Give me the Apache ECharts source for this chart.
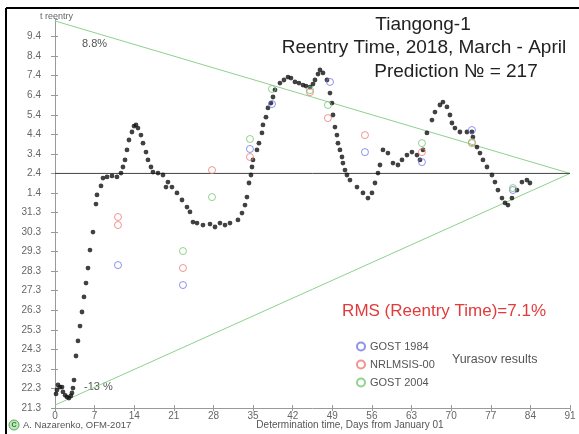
<!DOCTYPE html>
<html>
<head>
<meta charset="utf-8">
<script src="https://cdn.jsdelivr.net/npm/echarts@6/dist/echarts.min.js"></script>
<style>
html,body{margin:0;padding:0;background:#fff;}
#chart{width:579px;height:434px;}
</style>
</head>
<body>
<div id="chart"></div>
<script>
// Y axis: value 0 = 21 March, 12 = 2 April (actual reentry)
const yTickLabels = ['21.3','22.3','23.3','24.3','25.3','26.3','27.3','28.3','29.3','30.3','31.3',
                     '1.4','2.4','3.4','4.4','5.4','6.4','7.4','8.4','9.4'];
const reentryValue = 12;
// prediction curve [day from Jan 01, reentry value]
const predictions = [
[0.18,0.72],[0.35,0.92],[0.53,1.18],[0.88,1.07],[1.24,1.07],[1.41,0.82],[1.8,0.65],[2.12,0.56],[2.47,0.51],[2.8,0.62],[3.00,0.77],[3.18,1.02],
[3.36,1.43],[3.71,2.66],[4.06,3.43],[4.42,4.19],[4.77,4.91],[5.12,5.68],[5.48,6.39],[5.83,7.16],[6.18,8.08],[6.71,9.00],[7.24,10.43],[7.42,10.90],
[8.13,11.36],[8.48,11.76],[9.19,11.82],[10.07,11.87],[10.95,11.82],[11.66,12.02],[12.01,12.33],[12.37,12.69],[12.72,13.20],[13.07,13.71],[13.60,14.12],
[13.96,14.42],[14.31,14.48],[14.66,14.32],[15.19,13.96],[15.55,13.55],[16.08,13.09],[16.43,12.69],[16.96,12.33],[17.31,12.07],[18.20,12.02],[19.08,11.92],
[19.61,11.30],[19.96,11.56],[20.67,11.30],[21.55,11.00],[22.44,10.64],[23.32,10.28],[23.85,10.03],[24.38,9.51],[25.09,9.46],[26.15,9.36],[27.39,9.41],
[28.27,9.26],[29.15,9.46],[30.04,9.36],[30.92,9.46],[32.33,9.62],[33.04,9.97],[33.57,10.38],[33.92,10.79],[34.28,11.51],[34.63,11.92],[34.81,12.33],
[34.98,12.69],[35.69,13.20],[36.04,13.55],[36.57,14.07],[36.75,14.48],[37.28,14.88],[37.63,15.35],[38.16,15.60],[38.52,15.91],[38.87,16.27],[39.75,16.62],
[40.46,16.78],[41.17,16.93],[41.7,16.88],[42.40,16.68],[43.1,16.62],[43.82,16.52],[44.35,16.47],[45.05,16.42],[45.58,16.57],[45.94,16.78],[46.47,17.08],
[46.82,17.29],[47.35,17.14],[48.06,16.78],[48.59,16.11],[48.94,15.60],[49.12,14.99],[49.47,14.37],[49.82,13.96],[50.00,13.55],[50.35,13.20],[50.71,12.84],
[50.88,12.53],[51.24,12.17],[51.59,11.92],[52.12,11.66],[53.36,11.30],[54.42,11.00],[55.30,10.74],[56.01,11.00],[56.54,11.51],[57.07,12.02],[57.42,12.43],
[57.95,13.20],[58.83,13.04],[59.72,12.53],[60.60,12.43],[61.31,12.69],[62.19,12.94],[63.07,13.09],[63.96,12.94],[64.49,12.69],[65.02,13.20],[65.72,14.07],
[66.61,14.73],[67.14,15.14],[68.02,15.50],[68.55,15.65],[69.26,15.40],[69.79,14.99],[70.14,14.58],[70.67,14.32],[71.55,14.12],[72.79,14.12],[73.67,14.12],
[73.85,13.86],[74.56,13.35],[75.09,13.04],[75.62,12.69],[76.33,12.33],[77.21,11.92],[77.74,11.56],[78.27,11.15],[78.98,10.74],[79.51,10.49],[80.04,10.38],
[80.74,10.74],[81.63,11.15],[82.51,11.56],[83.39,11.66],[83.92,11.51]
];
// Yurasov results
const gost1984 = [[11.13,7.31],[22.61,6.29],[34.45,13.25],[38.34,15.55],[48.59,16.68],[54.77,13.09],[64.84,12.58],[73.67,14.22],[80.92,11.15]];
const nrlmsis00 = [[11.13,9.77],[11.13,9.36],[22.61,7.16],[27.74,12.17],[34.45,12.84],[45.05,16.16],[48.23,14.83],[54.77,13.96],[64.84,13.09],[73.67,13.55]];
const gost2004 = [[22.61,8.03],[27.74,10.79],[34.45,13.76],[38.34,16.32],[45.05,16.26],[48.23,15.5],[64.84,13.55],[73.67,13.6],[80.92,11.25]];
// error corridor
const upperBound = [[0,19.8],[91,12]];
const lowerBound = [[0,0.15],[91,12]];
const reentryLine = [[0,reentryValue],[91,reentryValue]];

const FONT = 'Liberation Sans, Arial, sans-serif';
const chart = echarts.init(document.getElementById('chart'), null, {renderer:'canvas'});
const yFmt = v => (Math.abs(v-Math.round(v))<1e-6 && yTickLabels[Math.round(v)]!==undefined) ? yTickLabels[Math.round(v)] : '';
const option = {
  animation:false,
  backgroundColor:'#fff',
  textStyle:{fontFamily:FONT},
  grid:{left:55,right:9,top:19,bottom:26},
  xAxis:[{
    type:'value',min:0,max:91,interval:7,
    axisLine:{lineStyle:{color:'#9a9a9a',width:1}},
    axisTick:{length:3,lineStyle:{color:'#9a9a9a'}},
    axisLabel:{fontSize:10,color:'#666',margin:3,fontFamily:FONT},
    splitLine:{show:false}
  },{
    type:'value',min:0,max:91,interval:7,position:'bottom',
    axisLine:{show:false},axisTick:{inside:true,length:3,lineStyle:{color:'#9a9a9a'}},
    axisLabel:{show:false},splitLine:{show:false}
  }],
  yAxis:[{
    type:'value',min:0,max:19.9,interval:1,
    axisLine:{show:true,lineStyle:{color:'#9a9a9a',width:1}},
    axisTick:{length:4,lineStyle:{color:'#9a9a9a'}},
    axisLabel:{fontSize:10,color:'#666',margin:14,formatter:yFmt,showMaxLabel:false,fontFamily:FONT},
    splitLine:{show:false}
  },{
    type:'value',min:0,max:19.9,interval:1,position:'left',
    axisLine:{show:false},axisTick:{inside:true,length:3,lineStyle:{color:'#9a9a9a'}},
    axisLabel:{show:false},splitLine:{show:false}
  }],
  legend:{
    orient:'vertical',left:351,top:336,itemWidth:8,itemHeight:8,itemGap:7,
    textStyle:{fontSize:11,color:'#555',fontFamily:FONT},
    data:[{name:'GOST 1984',icon:'circle'},{name:'NRLMSIS-00',icon:'circle'},{name:'GOST 2004',icon:'circle'}]
  },
  series:[
    {type:'line',data:upperBound,symbol:'none',lineStyle:{color:'#8fd18f',width:1},silent:true,z:1},
    {type:'line',data:lowerBound,symbol:'none',lineStyle:{color:'#8fd18f',width:1},silent:true,z:1},
    {type:'line',data:reentryLine,symbol:'none',lineStyle:{color:'#444',width:1},silent:true,z:1},
    {name:'Prediction',type:'scatter',data:predictions,symbolSize:4.8,itemStyle:{color:'#111'},z:3},
    {name:'GOST 1984',type:'scatter',data:gost1984,symbolSize:7,itemStyle:{color:'rgba(255,255,255,0)',borderColor:'#6f78e6',borderWidth:1},z:4},
    {name:'NRLMSIS-00',type:'scatter',data:nrlmsis00,symbolSize:7,itemStyle:{color:'rgba(255,255,255,0)',borderColor:'#ee7b74',borderWidth:1},z:4},
    {name:'GOST 2004',type:'scatter',data:gost2004,symbolSize:7,itemStyle:{color:'rgba(255,255,255,0)',borderColor:'#76c776',borderWidth:1},z:4}
  ],
  graphic:[
    {type:'line',shape:{x1:6,y1:8,x2:579,y2:8},style:{stroke:'#000',lineWidth:2},z:10},
    {type:'line',shape:{x1:6,y1:8,x2:6,y2:434},style:{stroke:'#000',lineWidth:2},z:10},
    {type:'text',left:40,top:12,style:{text:'t reentry',fill:'#666',font:'9px '+FONT}},
    {type:'text',left:82,top:38,style:{text:'8.8%',fill:'#555',font:'11px '+FONT}},
    {type:'text',left:84,top:381,style:{text:'-13 %',fill:'#555',font:'11px '+FONT}},
    {type:'text',x:423,y:25,style:{text:'Tiangong-1',fill:'#222',font:'19px '+FONT,textAlign:'center',textVerticalAlign:'middle'}},
    {type:'text',x:424,y:48,style:{text:'Reentry Time, 2018, March - April',fill:'#222',font:'19px '+FONT,textAlign:'center',textVerticalAlign:'middle'}},
    {type:'text',x:456,y:72,style:{text:'Prediction \u2116 = 217',fill:'#222',font:'19px '+FONT,textAlign:'center',textVerticalAlign:'middle'}},
    {type:'text',x:546,y:311,style:{text:'RMS (Reentry Time)=7.1%',fill:'#e23b3b',font:'17px '+FONT,textAlign:'right',textVerticalAlign:'middle'}},
    {type:'text',x:452,y:360,style:{text:'Yurasov results',fill:'#555',font:'12.5px '+FONT,textVerticalAlign:'middle'}},
    {type:'circle',shape:{cx:14,cy:425,r:5},style:{fill:'#bfe6bf',stroke:'#5aa85a',lineWidth:1}},
    {type:'text',x:14,y:425,style:{text:'C',fill:'#2e7d2e',font:'bold 7px '+FONT,textAlign:'center',textVerticalAlign:'middle'}},
    {type:'text',x:23,y:425,style:{text:'A. Nazarenko, OFM-2017',fill:'#555',font:'9.5px '+FONT,textVerticalAlign:'middle'}},
    {type:'text',x:350,y:425,style:{text:'Determination time, Days from January 01',fill:'#555',font:'10px '+FONT,textAlign:'center',textVerticalAlign:'middle'}}
  ]
};
chart.setOption(option);
</script>
</body>
</html>
